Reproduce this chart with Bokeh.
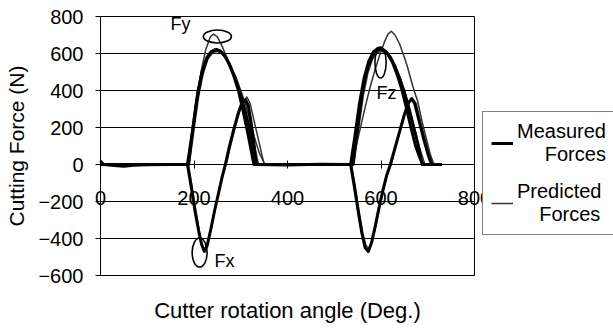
from bokeh.plotting import figure
from bokeh.models import (ColumnDataSource, FixedTicker, Legend, LegendItem,
                          LinearAxis, Range1d)
from bokeh.core.properties import value
from bokeh.embed import file_html
from bokeh.resources import INLINE

FONT = "Liberation Sans"
W, H = 613, 331

# Axis extents and ticks
x_min, x_max = 0, 800
y_min, y_max = -600, 800
x_ticks = [0, 200, 400, 600, 800]
y_ticks = [-600, -400, -200, 0, 200, 400, 600, 800]

# Measured cutting forces (N) against cutter rotation angle (deg)
fx_meas_angle = [0, 6, 30, 50, 70, 100, 150, 186, 194, 202, 210, 216, 222, 228, 236,
                 244, 252, 260, 267, 275, 285, 295, 302, 310, 316, 322, 328, 333,
                 400, 470, 535, 543, 551, 559, 566, 573, 580, 588, 596, 604, 612,
                 620, 630, 640, 650, 658, 665, 672, 680, 690, 700, 708, 730]
fx_meas_force = [20, 0, -5, -10, -4, -2, 0, 0, -120, -250, -360, -430, -470, -440, -350,
                 -250, -160, -70, 0, 90, 190, 280, 330, 350, 320, 230, 120, 0,
                 -3, 2, 0, -120, -250, -370, -450, -470, -420, -330, -230, -140, -60,
                 0, 90, 180, 270, 330, 355, 330, 250, 150, 60, 0, 0]

fy_meas_angle = [0, 186, 195, 205, 215, 225, 235, 245, 255, 265, 275, 285, 295, 305,
                 315, 322, 328, 535, 544, 554, 564, 574, 584, 594, 604, 614, 624, 634,
                 644, 654, 664, 674, 684, 690, 730]
fy_meas_force = [0, 0, 150, 330, 470, 560, 605, 620, 615, 590, 545, 480, 400, 290,
                 170, 80, 0, 0, 150, 330, 470, 560, 610, 628, 622, 598, 555, 490,
                 410, 310, 200, 100, 30, 0, 0]

fz_meas_angle = [0, 188, 198, 208, 218, 228, 238, 248, 258, 268, 278, 288, 298, 308,
                 318, 326, 333, 540, 550, 560, 570, 580, 590, 600, 610, 620, 630, 640,
                 650, 660, 670, 680, 688, 730]
fz_meas_force = [0, 0, 200, 390, 510, 580, 612, 622, 610, 580, 530, 468, 390, 300,
                 200, 100, 0, 0, 200, 390, 510, 580, 615, 625, 612, 580, 530, 465,
                 390, 300, 200, 100, 0, 0]

# Predicted cutting forces (N)
fx_pred_angle = [0, 188, 196, 204, 212, 218, 224, 230, 238, 246, 254, 262, 269, 278,
                 288, 298, 306, 313, 320, 330, 340, 350, 537, 545, 553, 561, 568, 575,
                 582, 590, 598, 606, 614, 622, 632, 642, 652, 660, 667, 675, 685, 695,
                 705, 714, 730]
fx_pred_force = [0, 0, -120, -250, -370, -440, -460, -420, -330, -230, -140, -55, 0, 100,
                 200, 290, 340, 365, 330, 220, 110, 0, 0, -120, -250, -370, -440, -455,
                 -410, -320, -220, -130, -50, 0, 100, 190, 280, 335, 360, 330, 230, 130,
                 50, 0, 0]

fy_pred_angle = [0, 188, 195, 205, 215, 225, 235, 242, 250, 260, 270, 280, 290, 300,
                 310, 320, 330, 340, 352, 537, 547, 557, 567, 577, 587, 597, 607, 615,
                 622, 630, 640, 650, 657, 665, 672, 678, 688, 698, 705, 712, 730]
fy_pred_force = [0, 0, 150, 340, 500, 620, 690, 705, 690, 640, 580, 520, 470, 400,
                 330, 230, 140, 60, 0, 0, 100, 210, 320, 420, 510, 590, 660, 705,
                 720, 700, 650, 580, 524, 450, 390, 346, 230, 130, 60, 0, 0]

fz_pred_angle = [0, 190, 200, 210, 220, 230, 240, 250, 260, 270, 280, 290, 300, 310,
                 320, 330, 338, 542, 552, 562, 572, 582, 592, 602, 612, 622, 632, 642,
                 652, 662, 672, 682, 694, 730]
fz_pred_force = [0, 0, 190, 370, 495, 570, 605, 612, 600, 570, 522, 460, 385, 295,
                 195, 95, 0, 0, 190, 370, 495, 570, 605, 612, 600, 570, 522, 460,
                 385, 295, 195, 95, 0, 0]

# Hand-drawn style callouts marking each force component
callout_x = [250, 212, 599]
callout_y = [692, -476, 551]
callout_w = [60, 32, 24]
callout_h = [70, 157, 168]
callout_text = ["Fy", "Fx", "Fz"]
callout_text_x = [171, 265, 612]
callout_text_y = [762, -519, 389]

# The frame fills the whole canvas; the plot box sits inside it at these pixels,
# so that axis labels, titles and the legend are never clipped.
BOX_L, BOX_R, BOX_T, BOX_B = 100, 474, 16, 275
sx = (x_max - x_min) / (BOX_R - BOX_L)
sy = (y_max - y_min) / (BOX_B - BOX_T)
x_range = Range1d(x_min - BOX_L * sx, x_max + (W - BOX_R) * sx)
y_range = Range1d(y_min - (H - BOX_B) * sy, y_max + BOX_T * sy)

p = figure(width=W, height=H, output_backend="svg", toolbar_location=None,
           x_range=x_range, y_range=y_range,
           x_axis_location=None, y_axis_location=None,
           min_border=0, outline_line_color=None,
           background_fill_color="white", border_fill_color="white")
p.grid.visible = False

# Horizontal gridlines spanning the plot box, and the box's right-hand edge
n = len(y_ticks)
p.segment(x0=[x_min] * n, y0=y_ticks, x1=[x_max] * n, y1=y_ticks,
          line_color="black", line_width=1)
p.segment(x0=[x_max], y0=[y_min], x1=[x_max], y1=[y_max],
          line_color="black", line_width=1)

# Vertical axis at zero angle
yax = LinearAxis(fixed_location=x_min, bounds=(y_min, y_max),
                 ticker=FixedTicker(ticks=y_ticks),
                 axis_line_color="black", major_tick_line_color="black",
                 major_tick_in=4, major_tick_out=5, minor_tick_line_color=None,
                 major_label_standoff=12,
                 major_label_text_font=FONT, major_label_text_font_size="20px",
                 major_label_text_color="black",
                 axis_label="Cutting Force (N)",
                 axis_label_text_font=FONT, axis_label_text_font_size="21px",
                 axis_label_text_font_style="normal", axis_label_text_color="black",
                 axis_label_standoff=7)
p.add_layout(yax, "left")

# Horizontal axis crossing at zero force
xax = LinearAxis(fixed_location=0, bounds=(x_min, x_max),
                 ticker=FixedTicker(ticks=x_ticks),
                 axis_line_color="black", major_tick_line_color="black",
                 major_tick_in=4, major_tick_out=4, minor_tick_line_color=None,
                 major_label_standoff=22,
                 major_label_text_font=FONT, major_label_text_font_size="20px",
                 major_label_text_color="black",
                 axis_label="Cutter rotation angle (Deg.)",
                 axis_label_text_font=FONT, axis_label_text_font_size="22px",
                 axis_label_text_font_style="normal", axis_label_text_color="black",
                 axis_label_standoff=90)
p.add_layout(xax, "below")

MEAS_W = 3.0
PRED_W = 1.5
PRED_C = "#333333"

series = [
    (fy_pred_angle, fy_pred_force, PRED_C, PRED_W),
    (fz_pred_angle, fz_pred_force, PRED_C, PRED_W),
    (fx_pred_angle, fx_pred_force, PRED_C, PRED_W),
    (fy_meas_angle, fy_meas_force, "black", MEAS_W),
    (fz_meas_angle, fz_meas_force, "black", MEAS_W),
    (fx_meas_angle, fx_meas_force, "black", MEAS_W),
]
renderers = []
for ang, frc, col, w in series:
    src = ColumnDataSource(dict(angle=ang, force=frc))
    renderers.append(p.line("angle", "force", source=src, line_color=col,
                            line_width=w, line_join="round"))

p.ellipse(x=callout_x, y=callout_y, width=callout_w, height=callout_h,
          fill_color=None, line_color="black", line_width=1.6)
p.text(x=callout_text_x, y=callout_text_y, text=callout_text,
       text_font=value(FONT), text_font_size="18px", text_color="black",
       text_align="center", text_baseline="middle")

NB = "\u00a0"
legend = Legend(items=[LegendItem(label="Measured\n" + NB * 5 + "Forces",
                                  renderers=[renderers[5]]),
                       LegendItem(label="Predicted\n" + NB * 4 + "Forces",
                                  renderers=[renderers[2]])],
                location=(482, H - 235), margin=0, padding=8, spacing=14,
                glyph_width=22, label_standoff=4,
                label_text_font=FONT, label_text_font_size="20px",
                label_text_color="black",
                border_line_color="black", border_line_width=1,
                background_fill_color="white", background_fill_alpha=1.0)
p.add_layout(legend)

open("out.html", "w").write(file_html(p, INLINE))
